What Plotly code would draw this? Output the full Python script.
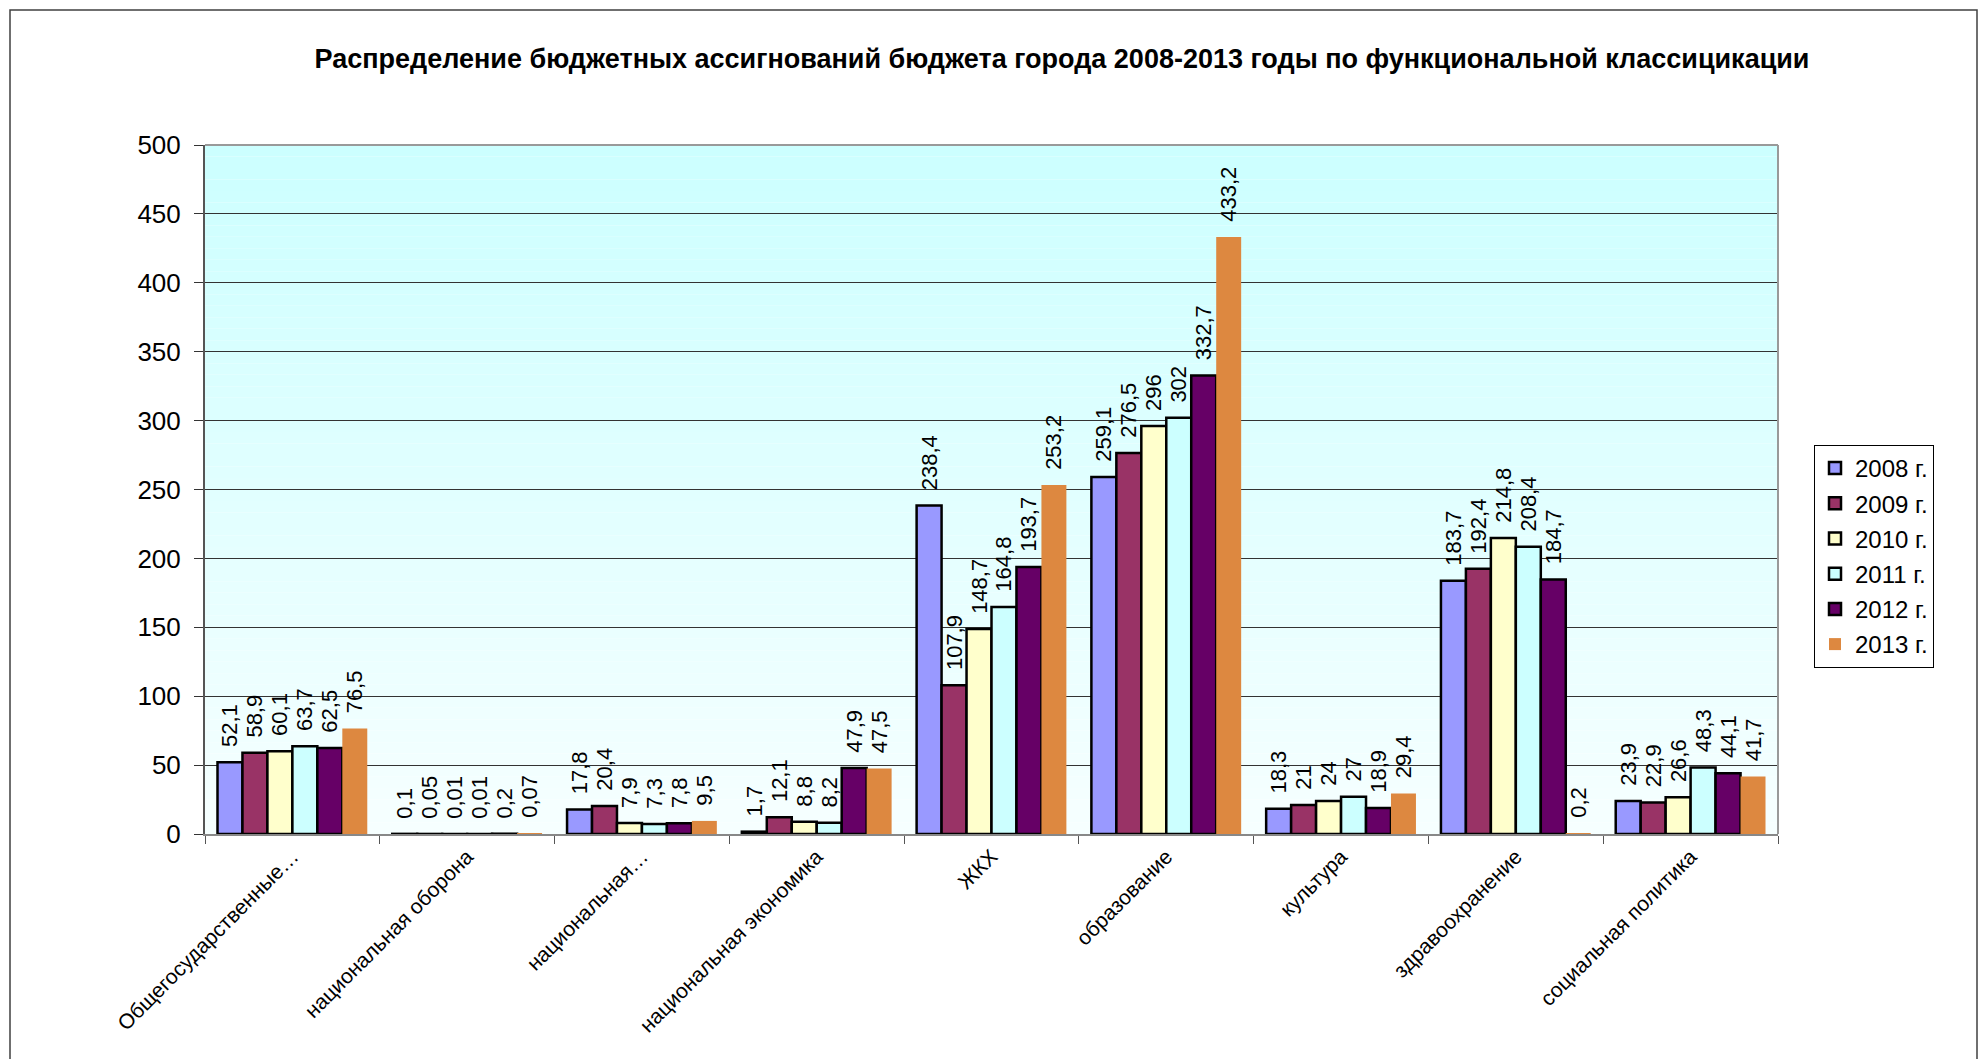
import plotly.graph_objects as go

categories = ["Общегосударственные…", "национальная оборона", "национальная…",
              "национальная экономика", "ЖКХ", "образование", "культура",
              "здравоохранение", "социальная политика"]
series_names = ["2008 г.", "2009 г.", "2010 г.", "2011 г.", "2012 г.", "2013 г."]

v2008 = [52.1, 0.1, 17.8, 1.7, 238.4, 259.1, 18.3, 183.7, 23.9]
v2009 = [58.9, 0.05, 20.4, 12.1, 107.9, 276.5, 21, 192.4, 22.9]
v2010 = [60.1, 0.01, 7.9, 8.8, 148.7, 296, 24, 214.8, 26.6]
v2011 = [63.7, 0.01, 7.3, 8.2, 164.8, 302, 27, 208.4, 48.3]
v2012 = [62.5, 0.2, 7.8, 47.9, 193.7, 332.7, 18.9, 184.7, 44.1]
v2013 = [76.5, 0.07, 9.5, 47.5, 253.2, 433.2, 29.4, 0.2, 41.7]
values = [v2008, v2009, v2010, v2011, v2012, v2013]

colors = ["#9999FF", "#993366", "#FFFFCC", "#CCFFFF", "#660066", "#DD8840"]
outline = [2.5, 2.5, 2.5, 2.5, 2.5, 0]

title_text = "Распределение бюджетных ассигнований бюджета города 2008-2013 годы по функциональной классицикации"

FONT = "Arial, 'Liberation Sans', sans-serif"

W, H = 1982, 1059
L, R, T, B = 205, 204, 145, 225
pw, ph = W - L - R, H - T - B

def fmt(v):
    return "\u00a0\u00a0" + f"{v:g}".replace(".", ",")

fig = go.Figure()
for name, vals, col, lw in zip(series_names, values, colors, outline):
    fig.add_trace(go.Bar(
        x=categories, y=vals, name=name,
        marker=dict(color=col, line=dict(color="black", width=lw)),
        text=[fmt(v) for v in vals], textposition="outside", textangle=-90,
        textfont=dict(family=FONT, size=22, color="black"),
        constraintext="none", cliponaxis=False, legendgroup=name,
    ))

# gradient background of plot area
shapes = []
n = 60
for i in range(n):
    t = i / (n - 1)
    r = int(round(246 - (246 - 204) * t))
    shapes.append(dict(type="rect", xref="paper", yref="paper",
                       x0=0, x1=1, y0=i / n, y1=(i + 1) / n,
                       fillcolor=f"rgb({r},255,255)", line=dict(width=0),
                       layer="below"))
# outer frame
shapes.append(dict(type="rect", xref="paper", yref="paper",
                   x0=(10 - L) / pw, x1=(1977 - L) / pw,
                   y0=(H - B - 1075) / ph, y1=(H - B - 10) / ph,
                   line=dict(color="#404040", width=1.5), fillcolor="rgba(0,0,0,0)",
                   layer="above"))
# top and right borders of plot area
shapes.append(dict(type="line", xref="paper", yref="paper", x0=0, x1=1, y0=1, y1=1,
                   line=dict(color="#999999", width=2)))
shapes.append(dict(type="line", xref="paper", yref="paper", x0=1, x1=1, y0=0, y1=1,
                   line=dict(color="#999999", width=2)))

fig.update_layout(
    width=W, height=H,
    margin=dict(l=L, r=R, t=T, b=B),
    paper_bgcolor="white", plot_bgcolor="rgba(0,0,0,0)",
    barmode="group", bargap=0.143, bargroupgap=0,
    font=dict(family=FONT, color="black"),
    title=dict(text="<b>" + title_text + "</b>", x=1062 / W, xanchor="center",
               y=1 - 59 / H, yanchor="middle",
               font=dict(family=FONT, size=27, color="black")),
    legend=dict(x=(1814 - L) / pw, xanchor="left", y=(H - B - 445) / ph, yanchor="top",
                bordercolor="black", borderwidth=1, bgcolor="white",
                font=dict(family=FONT, size=24), tracegroupgap=1, itemwidth=30),
    shapes=shapes,
    showlegend=True,
)
fig.update_yaxes(range=[0, 500], dtick=50, showgrid=True, gridcolor="#333333", gridwidth=1,
                 ticks="outside", ticklen=9, tickcolor="#333333", tickwidth=1,
                 showline=True, linecolor="#555555", linewidth=2, mirror=False,
                 tickfont=dict(family=FONT, size=26), ticklabelstandoff=8, zeroline=False)
fig.update_xaxes(tickangle=-45, tickfont=dict(family=FONT, size=21),
                 ticks="outside", tickson="boundaries", ticklen=8, tickcolor="#555555",
                 showline=True, linecolor="#888888", linewidth=2, mirror=False)

fig.write_html("out.html", config={"displayModeBar": False},
               post_script="document.body.style.margin='0';")
